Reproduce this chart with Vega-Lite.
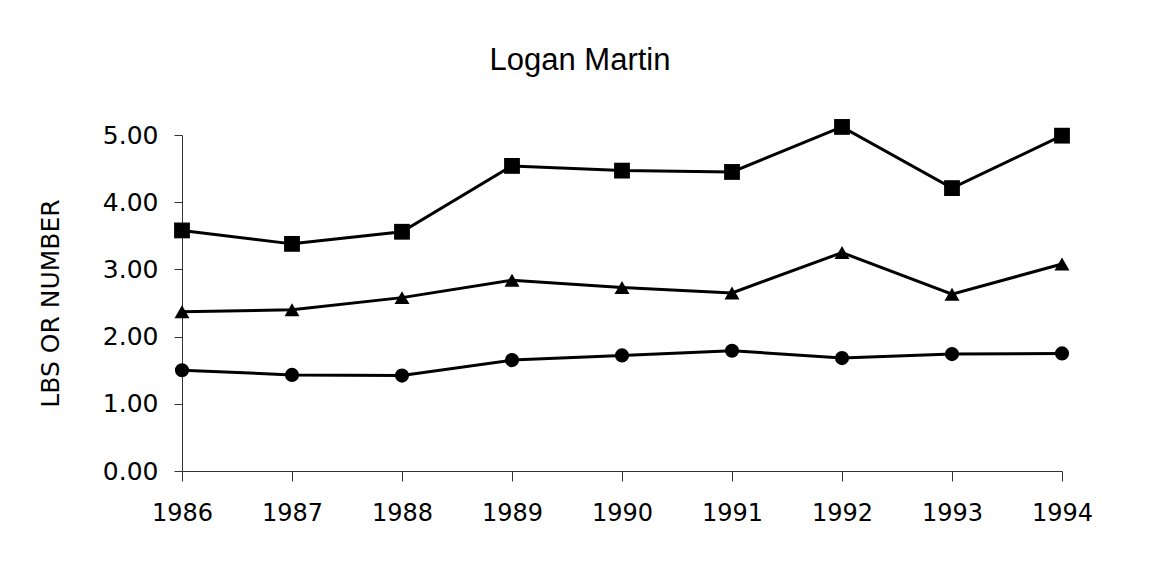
{
  "$schema": "https://vega.github.io/schema/vega-lite/v6.json",
  "autosize": {"type": "none"},
  "width": 880,
  "height": 336,
  "padding": {"left": 182, "top": 135, "right": 97, "bottom": 91},
  "background": "white",
  "title": {
    "text": "Logan Martin",
    "font": "Liberation Sans",
    "fontSize": 31,
    "fontWeight": "normal",
    "color": "black",
    "anchor": "middle",
    "dx": -42,
    "offset": 42
  },
  "data": {
    "values": [
      {"year": 1986, "series": "A", "value": 3.58},
      {"year": 1987, "series": "A", "value": 3.38},
      {"year": 1988, "series": "A", "value": 3.56},
      {"year": 1989, "series": "A", "value": 4.54},
      {"year": 1990, "series": "A", "value": 4.47},
      {"year": 1991, "series": "A", "value": 4.45},
      {"year": 1992, "series": "A", "value": 5.12},
      {"year": 1993, "series": "A", "value": 4.21},
      {"year": 1994, "series": "A", "value": 4.99},
      {"year": 1986, "series": "B", "value": 2.37},
      {"year": 1987, "series": "B", "value": 2.40},
      {"year": 1988, "series": "B", "value": 2.58},
      {"year": 1989, "series": "B", "value": 2.84},
      {"year": 1990, "series": "B", "value": 2.73},
      {"year": 1991, "series": "B", "value": 2.65},
      {"year": 1992, "series": "B", "value": 3.25},
      {"year": 1993, "series": "B", "value": 2.63},
      {"year": 1994, "series": "B", "value": 3.08},
      {"year": 1986, "series": "C", "value": 1.50},
      {"year": 1987, "series": "C", "value": 1.43},
      {"year": 1988, "series": "C", "value": 1.42},
      {"year": 1989, "series": "C", "value": 1.65},
      {"year": 1990, "series": "C", "value": 1.72},
      {"year": 1991, "series": "C", "value": 1.79},
      {"year": 1992, "series": "C", "value": 1.68},
      {"year": 1993, "series": "C", "value": 1.74},
      {"year": 1994, "series": "C", "value": 1.75}
    ]
  },
  "encoding": {
    "x": {
      "field": "year",
      "type": "quantitative",
      "scale": {"domain": [1986, 1994], "nice": false, "zero": false},
      "axis": {
        "values": [1986, 1987, 1988, 1989, 1990, 1991, 1992, 1993, 1994],
        "format": "d",
        "title": null,
        "grid": false,
        "labelFlush": false,
        "labelOverlap": false,
        "tickSize": 10,
        "tickColor": "#333",
        "domainColor": "#333",
        "labelFont": "DejaVu Sans",
        "labelFontSize": 24,
        "labelColor": "black",
        "labelPadding": 20
      }
    },
    "y": {
      "field": "value",
      "type": "quantitative",
      "scale": {"domain": [0, 5], "nice": false},
      "axis": {
        "values": [0, 1, 2, 3, 4, 5],
        "format": ".2f",
        "title": "LBS OR NUMBER",
        "titleFont": "DejaVu Sans",
        "titleFontSize": 25,
        "titleFontWeight": "normal",
        "titleColor": "black",
        "titlePadding": 39,
        "grid": false,
        "labelFlush": false,
        "labelOverlap": false,
        "tickSize": 8,
        "tickColor": "#333",
        "domainColor": "#333",
        "labelFont": "DejaVu Sans",
        "labelFontSize": 25,
        "labelColor": "black",
        "labelPadding": 16
      }
    },
    "detail": {"field": "series"}
  },
  "layer": [
    {
      "mark": {"type": "line", "color": "black", "strokeWidth": 3}
    },
    {
      "mark": {"type": "point", "filled": true, "color": "black", "opacity": 1},
      "encoding": {
        "shape": {
          "field": "series",
          "type": "nominal",
          "scale": {"domain": ["A", "B", "C"], "range": ["square", "triangle-up", "circle"]},
          "legend": null
        },
        "size": {
          "field": "series",
          "type": "nominal",
          "scale": {"domain": ["A", "B", "C"], "range": [250, 200, 210]},
          "legend": null
        }
      }
    }
  ],
  "config": {"view": {"stroke": null}}
}
